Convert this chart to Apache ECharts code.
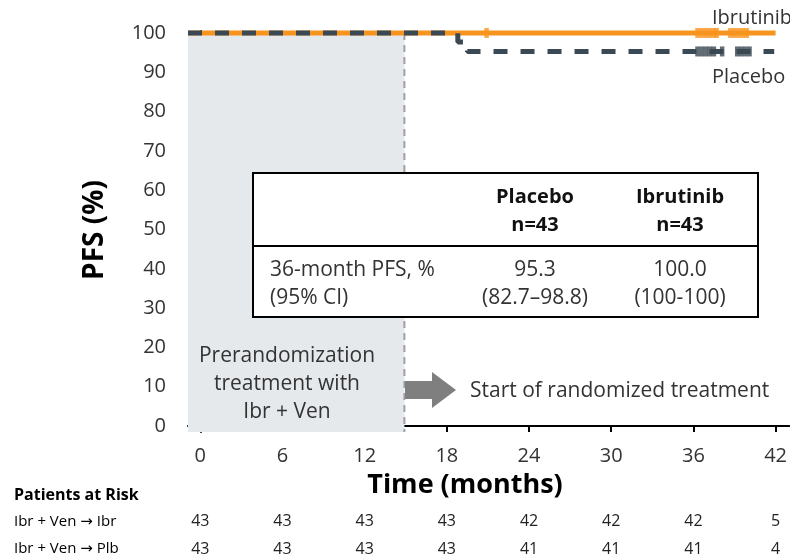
<!DOCTYPE html>
<html>
<head>
<meta charset="utf-8">
<script src="https://cdn.jsdelivr.net/npm/echarts@6/dist/echarts.min.js"></script>
<style>
  html, body { margin: 0; padding: 0; background: #fff; }
  #chart { width: 790px; height: 558px; }
</style>
</head>
<body>
<div id="chart"></div>
<script>
// Axis ticks
const monthTicks = [0, 6, 12, 18, 24, 30, 36, 42];
const pfsTicks = [0, 10, 20, 30, 40, 50, 60, 70, 80, 90, 100];

// Patients at risk at each month tick
const riskLabels = ['Ibr + Ven \u2192 Ibr', 'Ibr + Ven \u2192 Plb'];
const riskIbr = [43, 43, 43, 43, 42, 42, 42, 5];
const riskPlb = [43, 43, 43, 43, 41, 41, 41, 4];

// Kaplan-Meier step curves [month, PFS %]; both start at the left edge of the axis
const ibrCurve = [[-0.9, 100], [42, 100]];
const plbCurve = [[-0.9, 100], [18.8, 100], [18.8, 97.7], [19.5, 97.7], [19.5, 95.3], [41.9, 95.3]];

// Censoring times (months)
const ibrCensor = [20.9, 36.3, 36.6, 36.9, 37.2, 37.5, 37.7, 38.7, 39.0, 39.3, 39.6, 39.9];
const plbCensor = [36.3, 36.6, 36.9, 37.2, 37.5, 38.1, 39.2, 39.5, 39.8, 40.1];
const ibrCensorLevel = 100;
const plbCensorLevel = 95.3;

// Randomization point (end of the lead-in phase)
const randomizationMonth = 14.9;

// Summary table
const tableHeader = [['Placebo', 'n=43'], ['Ibrutinib', 'n=43']];
const tableRowLabel = ['36-month PFS, %', '(95% CI)'];
const tableValues = [['95.3', '(82.7\u201398.8)'], ['100.0', '(100-100)']];

const ORANGE = '#F7941E';
const SLATE = '#3B4954';
const TEXT = '#333333';
const FONT = '"Open Sans", "DejaVu Sans", sans-serif';

const X_MIN = -0.9, X_MAX = 43, Y_MIN = -1.5, Y_MAX = 100.5;

const chart = echarts.init(document.getElementById('chart'));

function riskAxis(values, offset) {
  return {
    type: 'value', min: X_MIN, max: X_MAX, position: 'bottom', offset: offset,
    axisLine: { show: false }, axisTick: { show: false }, splitLine: { show: false },
    axisLabel: {
      customValues: monthTicks, margin: 8,
      fontFamily: FONT, fontSize: 16, color: '#222',
      formatter: v => String(values[monthTicks.indexOf(v)])
    }
  };
}

const grid = { left: 188, right: 0, top: 31, bottom: 126 };

// Table geometry (pixels)
const T = { x0: 253, x1: 758, y0: 173, ym: 246, y1: 317 };
const colCenters = [535, 680];

const graphics = [];
// table box
graphics.push({ type: 'rect', z: 20, shape: { x: T.x0, y: T.y0, width: T.x1 - T.x0, height: T.y1 - T.y0 },
  style: { fill: '#fff', stroke: '#000', lineWidth: 2 } });
graphics.push({ type: 'line', z: 21, shape: { x1: T.x0, y1: T.ym, x2: T.x1, y2: T.ym }, style: { stroke: '#000', lineWidth: 2 } });
tableHeader.forEach((h, i) => {
  graphics.push({ type: 'text', z: 22, style: { text: h[0], x: colCenters[i], y: 197, align: 'center', verticalAlign: 'middle',
    font: 'bold 20px ' + FONT, fill: '#111' } });
  graphics.push({ type: 'text', z: 22, style: { text: h[1], x: colCenters[i], y: 225, align: 'center', verticalAlign: 'middle',
    font: 'bold 20px ' + FONT, fill: '#111' } });
});
tableRowLabel.forEach((t, i) => {
  graphics.push({ type: 'text', z: 22, style: { text: t, x: 270, y: 270 + i * 28, align: 'left', verticalAlign: 'middle',
    font: '21px ' + FONT, fill: TEXT } });
});
tableValues.forEach((v, i) => {
  v.forEach((t, j) => {
    graphics.push({ type: 'text', z: 22, style: { text: t, x: colCenters[i], y: 270 + j * 28, align: 'center', verticalAlign: 'middle',
      font: '21px ' + FONT, fill: TEXT } });
  });
});
// axis titles
graphics.push({ type: 'text', z: 10, x: 95, y: 230, rotation: Math.PI / 2,
  style: { text: 'PFS (%)', align: 'center', verticalAlign: 'middle', font: 'bold 28px ' + FONT, fill: '#000' } });
graphics.push({ type: 'text', z: 10, style: { text: 'Time (months)', x: 465, y: 485, align: 'center', verticalAlign: 'middle',
  font: 'bold 27px ' + FONT, fill: '#000' } });
// curve labels
graphics.push({ type: 'text', z: 10, style: { text: 'Ibrutinib', x: 712, y: 18, align: 'left', verticalAlign: 'middle',
  font: '20px ' + FONT, fill: TEXT } });
graphics.push({ type: 'text', z: 10, style: { text: 'Placebo', x: 712, y: 77, align: 'left', verticalAlign: 'middle',
  font: '20px ' + FONT, fill: TEXT } });
// lead-in annotation
graphics.push({ type: 'text', z: 10, style: { text: 'Prerandomization\ntreatment with\nIbr + Ven', x: 287, y: 384,
  align: 'center', verticalAlign: 'middle', lineHeight: 28, font: '21px ' + FONT, fill: TEXT } });
graphics.push({ type: 'polygon', z: 10, shape: { points: [[405, 381], [432, 381], [432, 372], [456, 390], [432, 408], [432, 399], [405, 399]] },
  style: { fill: '#7F7F7F' } });
graphics.push({ type: 'text', z: 10, style: { text: 'Start of randomized treatment', x: 470, y: 391, align: 'left', verticalAlign: 'middle',
  font: '21px ' + FONT, fill: TEXT } });
// patients at risk row labels
graphics.push({ type: 'text', z: 10, style: { text: 'Patients at Risk', x: 14, y: 495, align: 'left', verticalAlign: 'middle',
  font: 'bold 16px ' + FONT, fill: '#000' } });
riskLabels.forEach((t, i) => {
  graphics.push({ type: 'text', z: 10, style: { text: t, x: 14, y: 522 + i * 27, align: 'left', verticalAlign: 'middle',
    font: '15px ' + FONT, fill: '#000' } });
});

const option = {
  animation: false,
  backgroundColor: '#fff',
  grid: grid,
  xAxis: [
    {
      type: 'value', min: X_MIN, max: X_MAX,
      axisLine: { lineStyle: { color: '#000', width: 2 } },
      axisTick: { customValues: monthTicks, length: 6, lineStyle: { color: '#000', width: 2 } },
      splitLine: { show: false },
      axisLabel: { customValues: monthTicks, margin: 14, fontFamily: FONT, fontSize: 20, color: TEXT }
    },
    riskAxis(riskIbr, 73),
    riskAxis(riskPlb, 101)
  ],
  yAxis: {
    type: 'value', min: Y_MIN, max: Y_MAX,
    axisLine: { show: true, lineStyle: { color: '#000', width: 2 } },
    axisTick: { show: true, customValues: pfsTicks, length: 11, lineStyle: { color: '#000', width: 2 } },
    splitLine: { show: false },
    axisLabel: { customValues: pfsTicks, margin: 22, fontFamily: FONT, fontSize: 20, color: TEXT }
  },
  series: [
    {
      // shaded lead-in phase and dashed randomization line
      type: 'custom', z: 1, silent: true,
      data: [[X_MIN, randomizationMonth]],
      renderItem: (params, api) => {
        const p0 = api.coord([api.value(0), 100]);
        const p1 = api.coord([api.value(1), Y_MIN]);
        return {
          type: 'group',
          children: [
            { type: 'rect', shape: { x: p0[0], y: p0[1], width: p1[0] - p0[0], height: p1[1] - p0[1] },
              style: { fill: '#E5E9EC' } },
            { type: 'line', shape: { x1: p1[0], y1: p0[1], x2: p1[0], y2: p1[1] },
              style: { stroke: '#A0A0A0', lineWidth: 2, lineDash: [7, 5] } }
          ]
        };
      }
    },
    {
      name: 'Ibrutinib', type: 'line', z: 3, data: ibrCurve, symbol: 'none',
      lineStyle: { color: ORANGE, width: 5 }
    },
    {
      name: 'Placebo', type: 'line', z: 4, data: plbCurve, symbol: 'none',
      lineStyle: { color: SLATE, width: 5, type: [14, 13] }
    },
    {
      type: 'scatter', z: 5, symbol: 'rect', symbolSize: [4.5, 10],
      itemStyle: { color: ORANGE },
      data: ibrCensor.map(t => [t, ibrCensorLevel])
    },
    {
      type: 'scatter', z: 5, symbol: 'rect', symbolSize: [4.5, 10],
      itemStyle: { color: SLATE },
      data: plbCensor.map(t => [t, plbCensorLevel])
    }
  ],
  graphic: graphics
};

chart.setOption(option);
</script>
</body>
</html>
